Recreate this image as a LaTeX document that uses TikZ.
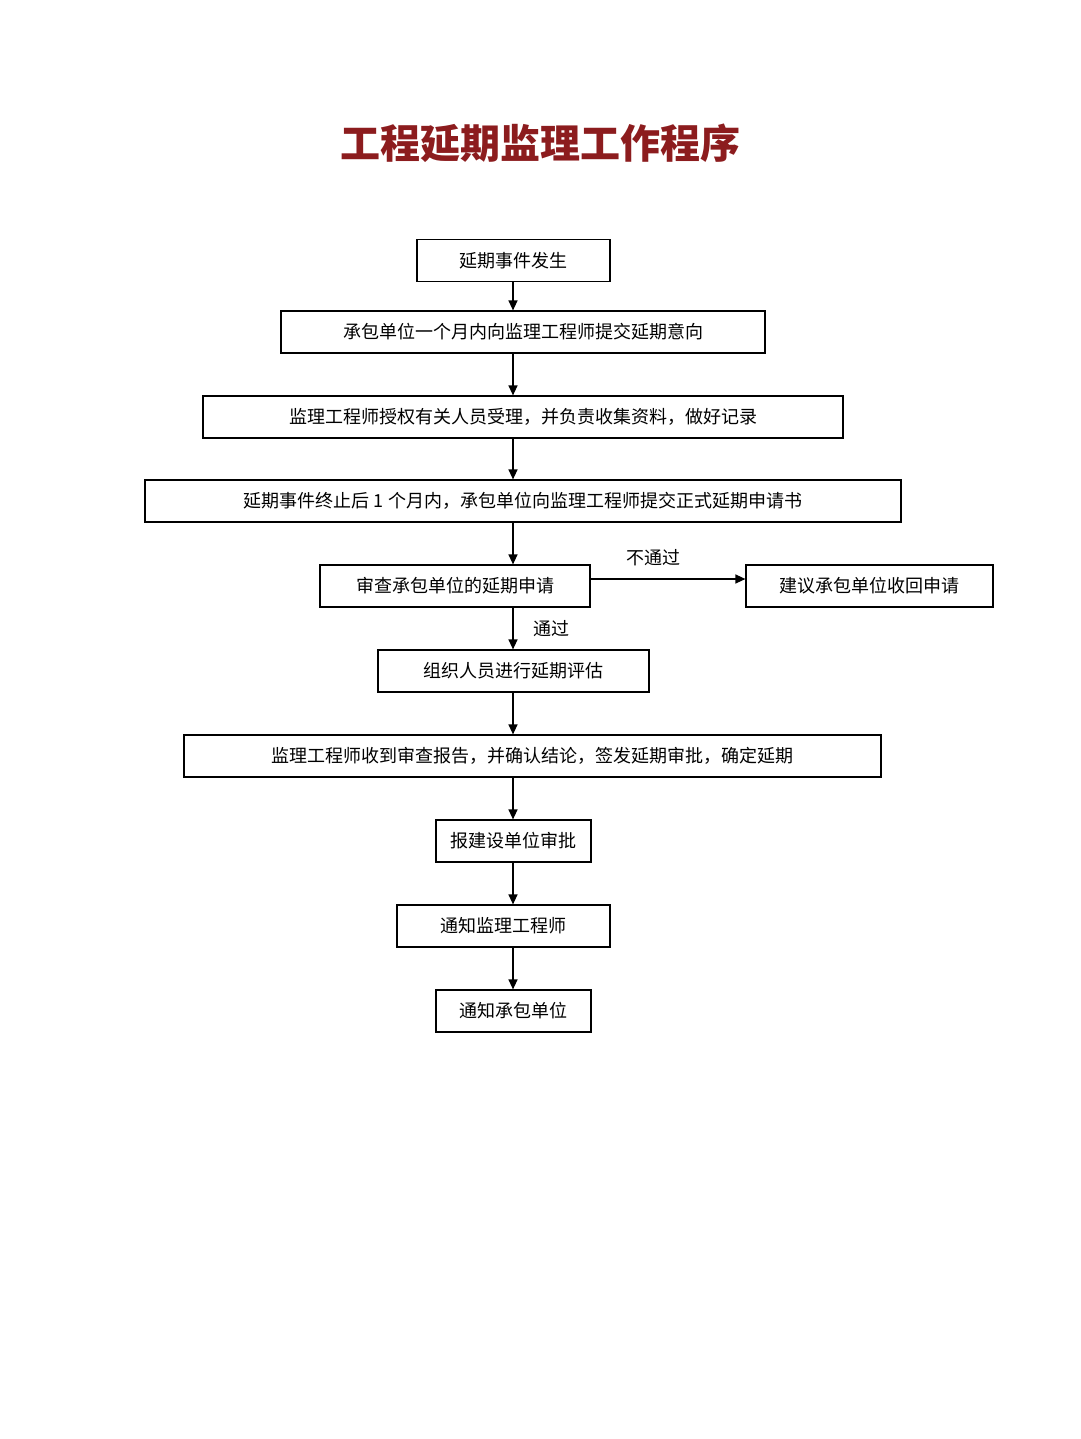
\documentclass[tikz,border=0pt]{standalone}
\usepackage{fontspec}
\newfontfamily\cjk{Noto Sans CJK SC}
\usetikzlibrary{arrows.meta}
\definecolor{titlered}{RGB}{140,28,30}
\begin{document}
\begin{tikzpicture}[x=1pt,y=-1pt,
  box/.style={draw,line width=1.2pt,minimum height=42pt,inner sep=0pt,font=\cjk\fontsize{18}{21}\selectfont},
  arr/.style={-{Triangle[length=10pt,width=9pt]},line width=1.3pt},
  lbl/.style={font=\cjk\fontsize{18}{21}\selectfont}]
\useasboundingbox (0,0) rectangle (1080,1439);
\node[font=\cjk\bfseries\fontsize{40}{46}\selectfont,text=titlered] (t) at (540,143) {工程延期监理工作程序};
\node[box,minimum width=193pt] (b1) at (513.5,260.5) {延期事件发生};
\node[box,minimum width=484pt] (b2) at (523,332) {承包单位一个月内向监理工程师提交延期意向};
\node[box,minimum width=640pt] (b3) at (523,417) {监理工程师授权有关人员受理，并负责收集资料，做好记录};
\node[box,minimum width=756pt] (b4) at (523,501) {延期事件终止后 1 个月内，承包单位向监理工程师提交正式延期申请书};
\node[box,minimum width=270pt] (b5) at (455,586) {审查承包单位的延期申请};
\node[box,minimum width=247pt] (b6) at (869.5,586) {建议承包单位收回申请};
\node[box,minimum width=271pt] (b7) at (513.5,671) {组织人员进行延期评估};
\node[box,minimum width=697pt] (b8) at (532.5,756) {监理工程师收到审查报告，并确认结论，签发延期审批，确定延期};
\node[box,minimum width=155pt] (b9) at (513.5,841) {报建设单位审批};
\node[box,minimum width=213pt] (b10) at (503.5,926) {通知监理工程师};
\node[box,minimum width=155pt] (b11) at (513.5,1011) {通知承包单位};
\coordinate (x) at (513,0);
\foreach \a/\b in {b1/b2,b2/b3,b3/b4,b4/b5,b5/b7,b7/b8,b8/b9,b9/b10,b10/b11}
  \draw[arr] (\a.south -| x) -- (\b.north -| x);
\draw[arr] ([yshift=7pt]b5.east) -- ([yshift=7pt]b6.west);
\node[lbl] (l1) at (653,558) {不通过};
\node[lbl] (l2) at (551,629) {通过};
\end{tikzpicture}
\end{document}
